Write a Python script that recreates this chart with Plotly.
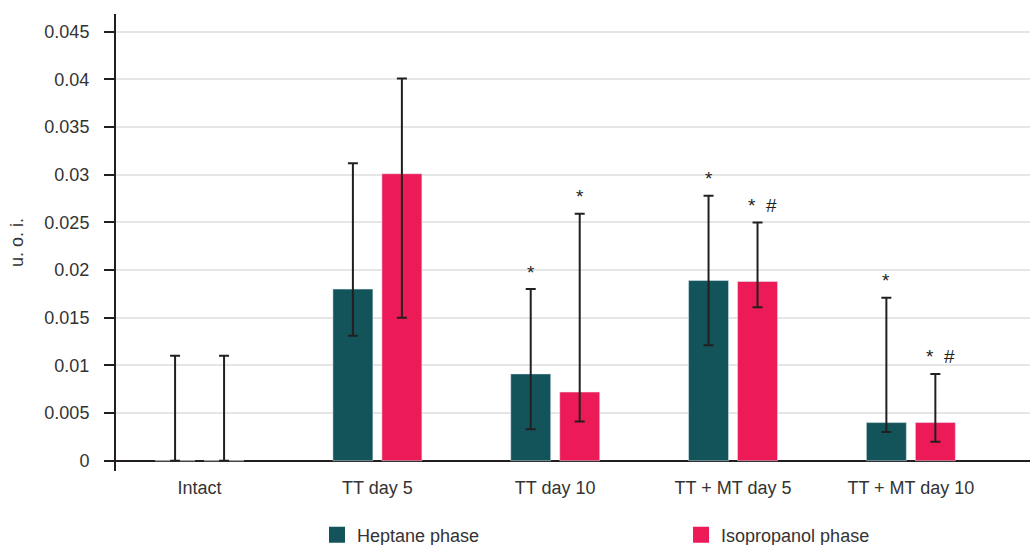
import plotly.graph_objects as go

categories = ["Intact", "TT day 5", "TT day 10", "TT + MT day 5", "TT + MT day 10"]
heptane = [0.0, 0.018, 0.0091, 0.0189, 0.004]
heptane_err_plus = [0.011, 0.0132, 0.0089, 0.0089, 0.0131]
heptane_err_minus = [0.0, 0.0049, 0.0058, 0.0068, 0.001]
isoprop = [0.0, 0.0301, 0.0072, 0.0188, 0.004]
isoprop_err_plus = [0.011, 0.01, 0.0187, 0.0062, 0.0051]
isoprop_err_minus = [0.0, 0.0151, 0.0031, 0.0027, 0.002]
heptane_marks = ["", "", "*", "*", "*"]
isoprop_marks = ["", "", "*", "*\u00a0\u00a0#", "*\u00a0\u00a0#"]
y_ticks = [0, 0.005, 0.01, 0.015, 0.02, 0.025, 0.03, 0.035, 0.04, 0.045]
y_tick_text = ["0", "0.005", "0.01", "0.015", "0.02", "0.025", "0.03", "0.035", "0.04", "0.045"]

TEAL = "#12545A"
PINK = "#EC1A56"
DARK = "#231F20"
TEXT = "#333333"
FONT = "Liberation Sans, Arial, sans-serif"

fig = go.Figure()
fig.add_trace(go.Bar(
    name="Heptane phase", x=categories, y=heptane, marker_color=TEAL, showlegend=False,
    error_y=dict(type="data", symmetric=False, array=heptane_err_plus,
                 arrayminus=heptane_err_minus, color=DARK, thickness=2, width=5),
))
fig.add_trace(go.Bar(
    name="Isopropanol phase", x=categories, y=isoprop, marker_color=PINK, showlegend=False,
    error_y=dict(type="data", symmetric=False, array=isoprop_err_plus,
                 arrayminus=isoprop_err_minus, color=DARK, thickness=2, width=5),
))
# legend entries (square swatches)
fig.add_trace(go.Scatter(name="Heptane phase", x=[None], y=[None], mode="markers",
                         marker=dict(symbol="square", size=18, color=TEAL), legend="legend"))
fig.add_trace(go.Scatter(name="Isopropanol phase", x=[None], y=[None], mode="markers",
                         marker=dict(symbol="square", size=18, color=PINK), legend="legend2"))

for i, c in enumerate(categories):
    if heptane_marks[i]:
        fig.add_annotation(x=c, y=heptane[i] + heptane_err_plus[i], text=heptane_marks[i],
                           xshift=-24.5, yshift=17, showarrow=False,
                           font=dict(size=19, color=DARK, family=FONT))
    if isoprop_marks[i]:
        xs = 29.5 if len(isoprop_marks[i]) > 1 else 24.5
        fig.add_annotation(x=c, y=isoprop[i] + isoprop_err_plus[i], text=isoprop_marks[i],
                           xshift=xs, yshift=17, showarrow=False,
                           font=dict(size=19, color=DARK, family=FONT))

legend_common = dict(orientation="h", xanchor="left", y=-0.1401, yanchor="middle",
                     bgcolor="rgba(0,0,0,0)", font=dict(size=18, color=TEXT, family=FONT))

fig.update_layout(
    width=1030, height=545,
    margin=dict(l=116, r=0, t=14, b=74, autoexpand=False),
    paper_bgcolor="white", plot_bgcolor="white",
    barmode="group", bargap=0.449, bargroupgap=0.184,
    font=dict(family=FONT, size=18, color=TEXT),
    showlegend=True,
    legend=dict(x=0.2199, **legend_common),
    legend2=dict(x=0.6182, **legend_common),
)
fig.update_xaxes(range=[-0.47, 4.67], showline=False, showgrid=False, ticks="",
                 ticklabelstandoff=4,
                 tickfont=dict(size=18, color=TEXT, family=FONT))
fig.update_yaxes(range=[-0.00108, 0.04686], tickvals=y_ticks, ticktext=y_tick_text,
                 showline=True, linecolor=DARK, linewidth=2,
                 ticks="outside", ticklen=10, tickwidth=2, tickcolor=DARK,
                 ticklabelstandoff=11,
                 showgrid=True, gridcolor="#E6E6E6", gridwidth=2,
                 zeroline=True, zerolinecolor=DARK, zerolinewidth=2,
                 title=dict(text="u. o. i.", standoff=16, font=dict(size=18, color=TEXT, family=FONT)),
                 tickfont=dict(size=18, color=TEXT, family=FONT))

fig.write_html("out.html")
